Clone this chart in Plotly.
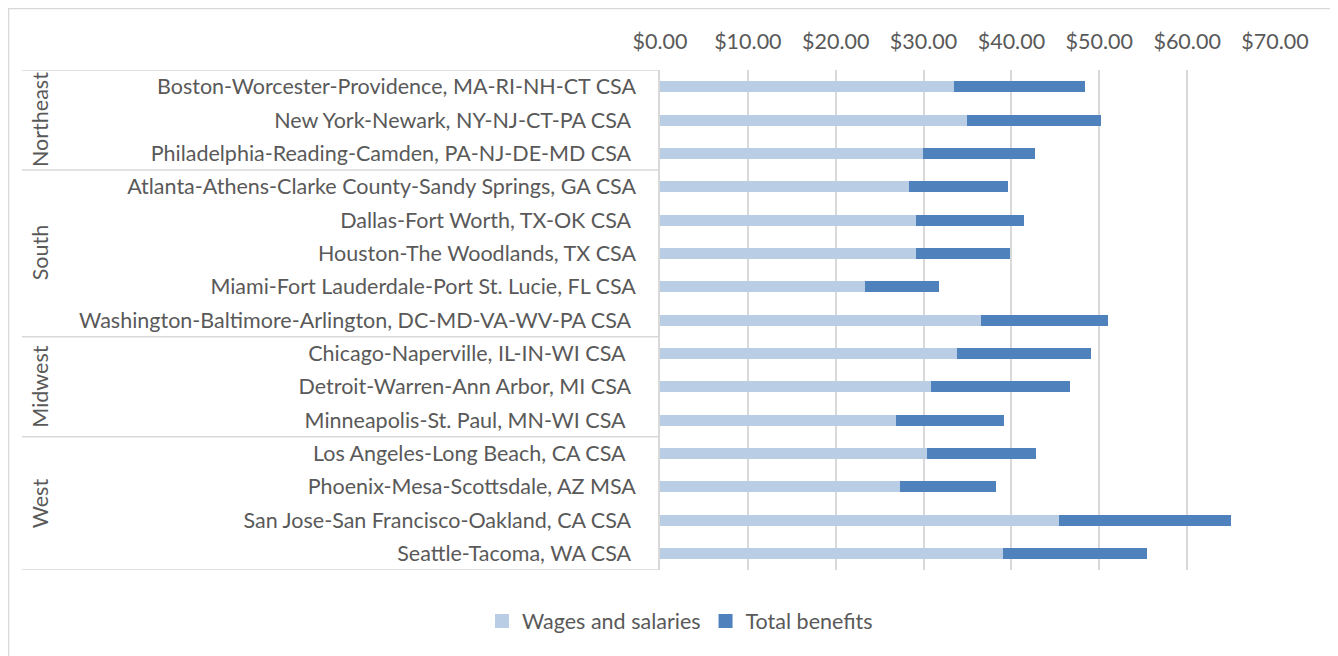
import plotly.graph_objects as go

regions = ["Northeast", "South", "Midwest", "West"]
region_sizes = [3, 5, 3, 4]
areas = [
    "Boston-Worcester-Providence, MA-RI-NH-CT CSA",
    "New York-Newark, NY-NJ-CT-PA CSA\u00a0",
    "Philadelphia-Reading-Camden, PA-NJ-DE-MD CSA\u00a0",
    "Atlanta-Athens-Clarke County-Sandy Springs, GA CSA",
    "Dallas-Fort Worth, TX-OK CSA\u00a0",
    "Houston-The Woodlands, TX CSA",
    "Miami-Fort Lauderdale-Port St. Lucie, FL CSA",
    "Washington-Baltimore-Arlington, DC-MD-VA-WV-PA CSA\u00a0",
    "Chicago-Naperville, IL-IN-WI CSA\u00a0\u00a0",
    "Detroit-Warren-Ann Arbor, MI CSA\u00a0",
    "Minneapolis-St. Paul, MN-WI CSA\u00a0\u00a0",
    "Los Angeles-Long Beach, CA CSA\u00a0\u00a0",
    "Phoenix-Mesa-Scottsdale, AZ MSA",
    "San Jose-San Francisco-Oakland, CA CSA\u00a0",
    "Seattle-Tacoma, WA CSA\u00a0",
]
wages = [33.5, 34.9, 29.9, 28.3, 29.1, 29.1, 23.3, 36.5, 33.8, 30.9, 26.9, 30.4, 27.3, 45.4, 39.0]
benefits = [14.9, 15.3, 12.8, 11.3, 12.3, 10.7, 8.5, 14.5, 15.3, 15.8, 12.2, 12.4, 11.0, 19.6, 16.4]
series_names = ["Wages and salaries", "Total benefits"]
colors = ["#B9CDE5", "#4F81BD"]

FONT = "Lato"
FS = 21.5
GRAY = "#595959"

fig = go.Figure()
for name, vals, col in zip(series_names, [wages, benefits], colors):
    fig.add_trace(go.Bar(
        y=list(range(len(areas))), x=vals, name=name, orientation="h",
        marker=dict(color=col, line=dict(width=0)), width=0.33, showlegend=False,
    ))
for name, col in zip(series_names, colors):
    fig.add_trace(go.Scatter(
        x=[None], y=[None], mode="markers", name=name,
        marker=dict(symbol="square", size=14, color=col),
    ))

# page has an 8px body margin; geometry below is in window pixels
OFF = 8
FW, FH = 1338 - OFF, 656 - OFF
L, R, T, B = 660 - OFF, 1275 - OFF, 70 - OFF, 570 - OFF
W, H = R - L, B - T

def px_x(p):
    return (p - OFF - L) / W

def px_y(p):
    return (B - (p - OFF)) / H

shapes = []
bounds = [-0.5]
acc = 0
for s in region_sizes:
    acc += s
    bounds.append(acc - 0.5)
for b in bounds:
    shapes.append(dict(type="line", xref="paper", yref="y", x0=px_x(22), x1=0, y0=b, y1=b,
                       line=dict(color="#D9D9D9", width=1.5)))
# chart border
shapes.append(dict(type="rect", xref="paper", yref="paper", x0=px_x(8.7), x1=px_x(1350),
                   y0=px_y(670), y1=px_y(8.7), line=dict(color="#D9D9D9", width=1.3), layer="below"))

annotations = []
start = 0
for r, s in zip(regions, region_sizes):
    mid = start + (s - 1) / 2
    annotations.append(dict(text=r, xref="paper", yref="y", x=px_x(40), y=mid, textangle=-90,
                            showarrow=False, font=dict(family=FONT, size=FS, color=GRAY),
                            xanchor="center", yanchor="middle"))
    start += s

fig.update_layout(
    barmode="stack",
    width=FW, height=FH,
    margin=dict(l=L, r=FW - R, t=T, b=FH - B),
    paper_bgcolor="white", plot_bgcolor="white",
    font=dict(family=FONT, color=GRAY, size=FS),
    shapes=shapes, annotations=annotations,
    legend=dict(orientation="h", x=px_x(680), xanchor="center", y=px_y(621), yanchor="middle",
                font=dict(family=FONT, size=FS, color=GRAY), traceorder="normal",
                itemwidth=30, tracegroupgap=0),
    showlegend=True,
)
fig.update_xaxes(side="top", range=[0, 70], dtick=10, tickprefix="$", tickformat=".2f",
                 showgrid=True, gridcolor="#D9D9D9", gridwidth=1.5, zeroline=False,
                 showline=False, ticks="", tickfont=dict(family=FONT, size=FS, color=GRAY),
                 ticklabelstandoff=16)
fig.update_yaxes(range=[len(areas) - 0.5, -0.5], tickmode="array",
                 tickvals=list(range(len(areas))), ticktext=areas,
                 showgrid=False, zeroline=False, showline=True, linecolor="#D9D9D9", linewidth=1.5,
                 ticks="", tickfont=dict(family=FONT, size=FS, color=GRAY), ticklabelstandoff=18)

fig.write_html("out.html")
